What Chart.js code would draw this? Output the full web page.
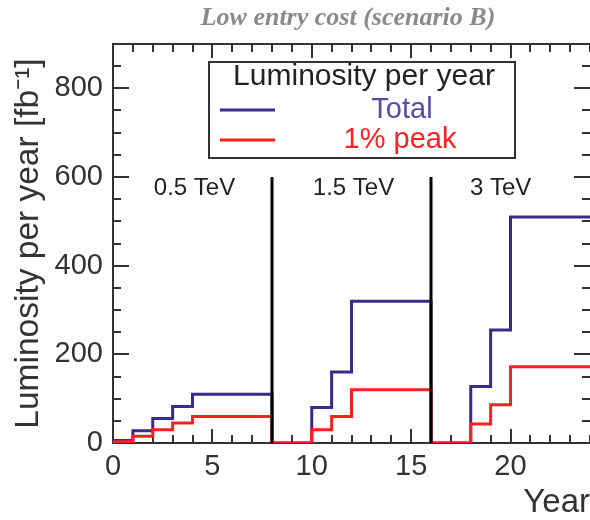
<!DOCTYPE html>
<html>
<head>
<meta charset="utf-8">
<script src="https://cdn.jsdelivr.net/npm/chart.js@4.4.1/dist/chart.umd.min.js"></script>
<style>
  html, body { margin: 0; padding: 0; background: #fff; }
  #wrap { width: 590px; height: 520px; }
</style>
</head>
<body>
<div id="wrap"><canvas id="c" width="590" height="520"></canvas></div>
<script>
// Yearly integrated luminosity, staged running (start year of each step)
const years     = [0, 1, 2, 3, 4, 8, 10, 11, 12, 16, 18, 19, 20, 24];
const totalLumi = [5.5, 27.5, 55, 82.5, 110, 0, 80, 160, 320, 0, 127.5, 255, 510, 510];
const peakLumi  = [3, 15, 30, 45, 60, 0, 30, 60, 120, 0, 43, 86, 172, 172];

// Energy stage boundaries and their labels
const stageEdges      = [8, 16];
const stageEdgeTop    = 600;
const stageLabels     = ['0.5 TeV', '1.5 TeV', '3 TeV'];
const stageLabelYears = [4.1, 12.1, 19.5];
const stageLabelValue = 575;

// Axis ticks
const xTicks = [0, 5, 10, 15, 20];
const yTicks = [0, 200, 400, 600, 800];
const xMinorStep = 1, xMajorStep = 5;
const yMinorStep = 50, yMajorStep = 200;

const FONT = '"Liberation Sans", Arial, Helvetica, sans-serif';
const INK = '#333333';
const BLUE = '#3a2a8c';
const RED = '#ff1f1f';

const toPoints = vals => years.map((x, i) => ({ x, y: vals[i] }));

const edgeSets = stageEdges.map(e => ({
  label: 'edge',
  data: [{ x: e, y: 0 }, { x: e, y: stageEdgeTop }],
  borderColor: '#000',
  borderWidth: 3,
  pointRadius: 0,
  fill: false,
  order: 0
}));

// Frame with inward ticks (under the lines)
const frame = {
  id: 'frame',
  beforeDatasetsDraw(chart) {
    const { ctx, chartArea: a, scales: { x, y } } = chart;
    ctx.save();
    ctx.strokeStyle = INK;
    ctx.lineWidth = 2;
    ctx.lineCap = 'butt';

    ctx.beginPath();
    ctx.moveTo(a.left, a.top); ctx.lineTo(a.right, a.top);
    ctx.moveTo(a.left, a.bottom); ctx.lineTo(a.right, a.bottom);
    ctx.moveTo(a.left, a.top - 1); ctx.lineTo(a.left, a.bottom + 1);
    ctx.stroke();

    ctx.beginPath();
    for (let v = x.min; v <= x.max + 1e-9; v += xMinorStep) {
      const px = Math.round(x.getPixelForValue(v));
      const len = (v % xMajorStep === 0) ? 14 : 8;
      ctx.moveTo(px, a.bottom); ctx.lineTo(px, a.bottom - len);
      ctx.moveTo(px, a.top); ctx.lineTo(px, a.top + len);
    }
    for (let v = y.min; v <= y.max + 1e-9; v += yMinorStep) {
      const py = Math.round(y.getPixelForValue(v));
      const len = (v % yMajorStep === 0) ? 16 : 8;
      ctx.moveTo(a.left, py); ctx.lineTo(a.left + len, py);
      ctx.moveTo(a.right, py); ctx.lineTo(a.right - len, py);
    }
    ctx.stroke();
    ctx.restore();
  }
};

// Stage labels, legend box and heading
const decorations = {
  id: 'decorations',
  afterDatasetsDraw(chart) {
    const { ctx, scales: { x, y } } = chart;
    ctx.save();
    ctx.textAlign = 'center';
    ctx.textBaseline = 'middle';

    ctx.fillStyle = '#222';
    ctx.font = '24px ' + FONT;
    stageLabels.forEach((t, i) => {
      ctx.fillText(t, x.getPixelForValue(stageLabelYears[i]), y.getPixelForValue(stageLabelValue));
    });

    const bx = 209, by = 62, bw = 306, bh = 96;
    ctx.fillStyle = '#fff';
    ctx.fillRect(bx, by, bw, bh);
    ctx.strokeStyle = INK;
    ctx.lineWidth = 2;
    ctx.strokeRect(bx, by, bw, bh);

    ctx.font = '30px ' + FONT;
    ctx.fillStyle = '#222';
    ctx.fillText('Luminosity per year', 364, 77);

    ctx.font = '29px ' + FONT;
    const entries = [
      { ds: chart.data.datasets[0], y: 110, text: '#5b4aa8', cx: 402 },
      { ds: chart.data.datasets[1], y: 140, text: RED, cx: 400 }
    ];
    entries.forEach(e => {
      ctx.strokeStyle = e.ds.borderColor;
      ctx.lineWidth = 3;
      ctx.beginPath();
      ctx.moveTo(220, e.y); ctx.lineTo(275, e.y);
      ctx.stroke();
      ctx.fillStyle = e.text;
      ctx.fillText(e.ds.label, e.cx, e.y);
    });

    ctx.font = 'italic bold 26px "Liberation Serif", "Times New Roman", serif';
    ctx.fillStyle = '#8a8a8a';
    ctx.textBaseline = 'alphabetic';
    ctx.fillText('Low entry cost (scenario B)', 348, 25);

    ctx.restore();
  }
};

new Chart(document.getElementById('c'), {
  type: 'line',
  data: {
    datasets: [
      {
        label: 'Total',
        data: toPoints(totalLumi),
        stepped: 'before',
        borderColor: BLUE,
        borderWidth: 3,
        pointRadius: 0,
        fill: false,
        order: 2
      },
      {
        label: '1% peak',
        data: toPoints(peakLumi),
        stepped: 'before',
        borderColor: RED,
        borderWidth: 3,
        pointRadius: 0,
        fill: false,
        order: 1
      },
      ...edgeSets
    ]
  },
  options: {
    responsive: false,
    animation: false,
    devicePixelRatio: 1,
    layout: { padding: { top: 44, right: 0, left: 0, bottom: 0 } },
    plugins: {
      legend: { display: false },
      tooltip: { enabled: false },
      title: { display: false }
    },
    scales: {
      x: {
        type: 'linear',
        min: 0,
        max: 24,
        afterBuildTicks: s => { s.ticks = xTicks.map(v => ({ value: v })); },
        afterFit: s => { s.height = 77; },
        grid: { display: false, drawTicks: false },
        border: { display: false },
        ticks: {
          padding: 9,
          color: INK,
          maxRotation: 0,
          autoSkip: false,
          font: { size: 29, family: FONT, lineHeight: 1 }
        },
        title: {
          display: true,
          text: 'Year',
          align: 'end',
          color: INK,
          font: { size: 33, family: FONT, lineHeight: 1 },
          padding: { top: 0, bottom: 1 }
        }
      },
      y: {
        type: 'linear',
        min: 0,
        max: 900,
        afterBuildTicks: s => { s.ticks = yTicks.map(v => ({ value: v })); },
        afterFit: s => { s.width = 113; },
        grid: { display: false, drawTicks: false },
        border: { display: false },
        ticks: {
          padding: 10,
          color: INK,
          autoSkip: false,
          font: { size: 29, family: FONT, lineHeight: 1 }
        },
        title: {
          display: true,
          text: 'Luminosity per year [fb\u207B\u00B9]',
          color: INK,
          font: { size: 33.5, family: FONT, lineHeight: 1 },
          padding: { top: 12, bottom: 0 }
        }
      }
    }
  },
  plugins: [frame, decorations]
});
</script>
</body>
</html>
